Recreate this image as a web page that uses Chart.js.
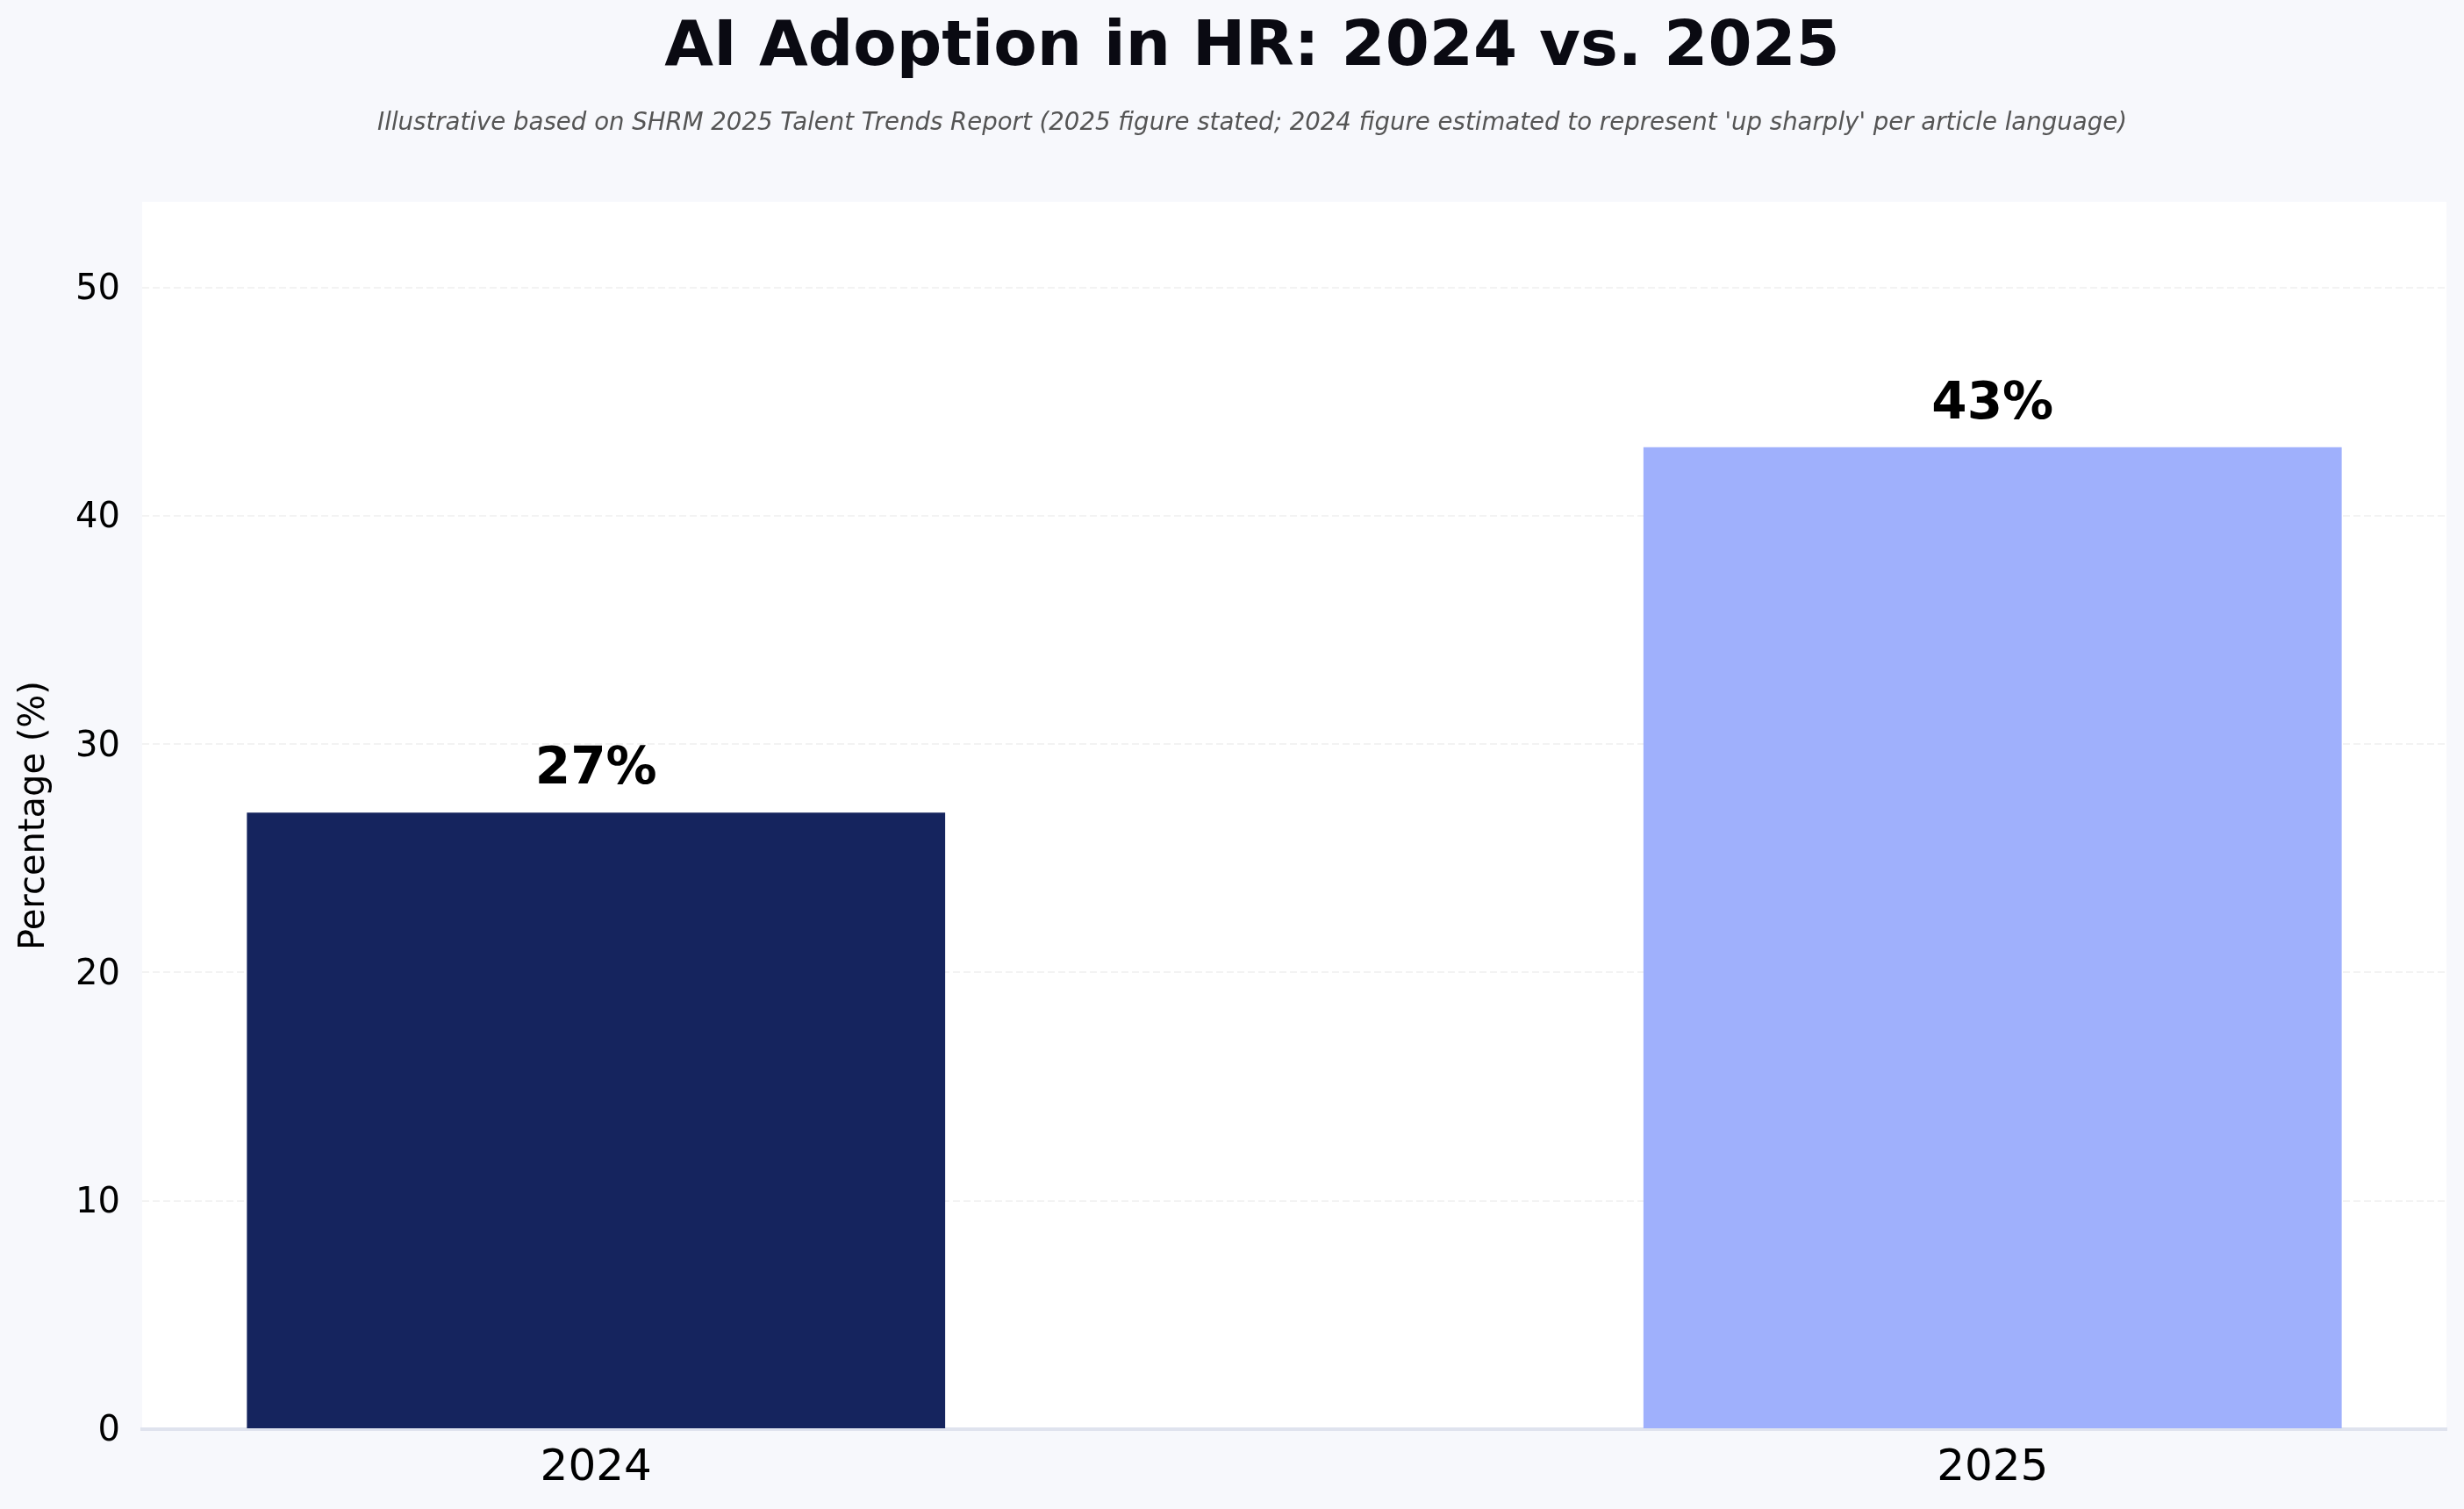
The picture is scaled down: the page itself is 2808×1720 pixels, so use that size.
<!DOCTYPE html>
<html>
<head>
<meta charset="utf-8">
<script src="https://cdn.jsdelivr.net/npm/chart.js@4.4.1/dist/chart.umd.min.js"></script>
<style>
  html, body { margin: 0; padding: 0; background: #f7f8fc; }
  #wrap { width: 2808px; height: 1720px; position: relative; }
</style>
</head>
<body>
<div id="wrap"><canvas id="aiChart"></canvas></div>
<script>
const years = ['2024', '2025'];
const adoption = [27, 43];
const barColors = ['#15245e', '#9fb0fc'];
const yTickValues = [0, 10, 20, 30, 40, 50];

const titleText = 'AI Adoption in HR: 2024 vs. 2025';
const subtitleText = "Illustrative based on SHRM 2025 Talent Trends Report (2025 figure stated; 2024 figure estimated to represent 'up sharply' per article language)";

const FONT = "'DejaVu Sans', sans-serif";

// page background, white plot area, and the two title lines
const backgroundPlugin = {
    id: 'bg',
    beforeDraw(chart) {
        const { ctx, chartArea: a } = chart;
        ctx.save();
        ctx.fillStyle = '#f7f8fc';
        ctx.fillRect(0, 0, chart.width, chart.height);
        ctx.fillStyle = '#ffffff';
        ctx.fillRect(a.left, a.top, a.right - a.left, a.bottom - a.top);

        const cx = 1427;
        ctx.textAlign = 'center';
        ctx.textBaseline = 'alphabetic';
        ctx.fillStyle = '#0a0a12';
        ctx.font = 'bold 72px ' + FONT;
        ctx.fillText(titleText, cx, 74);
        ctx.fillStyle = '#555555';
        ctx.font = 'italic 27.6px ' + FONT;
        ctx.fillText(subtitleText, cx, 148);
        ctx.restore();
    }
};

// percentage labels above the bars
const valueLabels = {
    id: 'valueLabels',
    afterDatasetsDraw(chart) {
        const { ctx } = chart;
        const meta = chart.getDatasetMeta(0);
        ctx.save();
        ctx.font = "bold 58px " + FONT;
        ctx.fillStyle = '#000';
        ctx.textAlign = 'center';
        ctx.textBaseline = 'alphabetic';
        meta.data.forEach((bar, i) => {
            ctx.fillText(adoption[i] + '%', bar.x, bar.y - 33);
        });
        ctx.restore();
    }
};

const ctx = document.getElementById('aiChart');

new Chart(ctx, {
    type: 'bar',
    data: {
        datasets: [{
            data: years.map((y, i) => ({ x: i, y: adoption[i] })),
            backgroundColor: barColors,
            borderWidth: 0,
            barPercentage: 0.5,
            categoryPercentage: 1.0
        }]
    },
    options: {
        responsive: true,
        maintainAspectRatio: false,
        animation: false,
        devicePixelRatio: 1,
        layout: { padding: { left: 0, right: 20, top: 230, bottom: 0 } },
        plugins: {
            legend: { display: false },
            tooltip: { enabled: false },
            title: { display: false },
            subtitle: { display: false }
        },
        scales: {
            x: {
                type: 'linear',
                offset: false,
                min: -0.325,
                max: 1.325,
                afterBuildTicks(scale) {
                    scale.ticks = years.map((y, i) => ({ value: i }));
                },
                afterFit(scale) { scale.height = 91; },
                ticks: {
                    color: '#000',
                    font: { family: FONT, size: 50 },
                    padding: 15,
                    maxRotation: 0,
                    callback: (v) => years[v]
                },
                grid: { display: false, drawTicks: false, offset: false },
                border: { display: true, color: '#dfe3ee', width: 4 }
            },
            y: {
                min: 0,
                max: 53.75,
                afterBuildTicks(scale) {
                    scale.ticks = yTickValues.map(v => ({ value: v }));
                },
                afterFit(scale) { scale.width = 162; },
                ticks: {
                    color: '#000',
                    font: { family: FONT, size: 40 },
                    padding: 25,
                    labelOffset: 3
                },
                grid: {
                    color: '#f3f3f3',
                    lineWidth: 2,
                    drawTicks: false
                },
                border: { display: false, dash: [8, 4] },
                title: {
                    display: true,
                    text: 'Percentage (%)',
                    color: '#000',
                    font: { family: FONT, size: 40, lineHeight: 1.2 },
                    padding: { top: 16, bottom: 0 }
                }
            }
        }
    },
    plugins: [backgroundPlugin, valueLabels]
});
</script>
</body>
</html>
